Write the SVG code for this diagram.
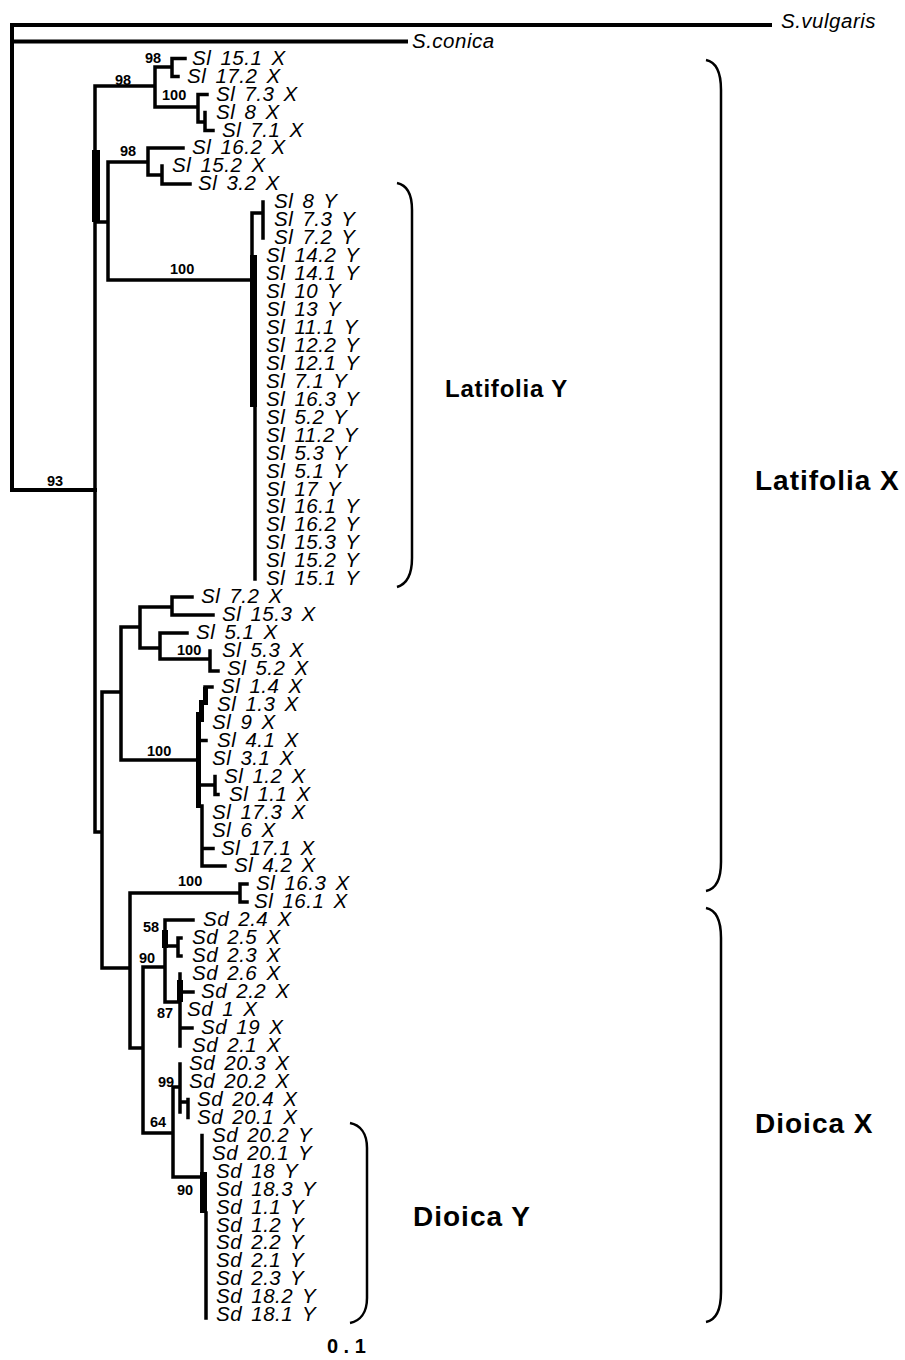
<svg xmlns="http://www.w3.org/2000/svg" width="905" height="1360" viewBox="0 0 905 1360">
<style>
.br{fill:none;stroke:#000;stroke-width:3.5;stroke-linecap:square}
.rt{fill:none;stroke:#000;stroke-width:4;stroke-linecap:square}
.blk{fill:#000}
.lf{font-family:"Liberation Sans",Arial,sans-serif;font-style:italic;font-size:20.5px;letter-spacing:0.5px;word-spacing:3px;fill:#000}
.bs{font-family:"Liberation Sans",Arial,sans-serif;font-weight:bold;font-size:14.5px;fill:#000}
.gl{font-family:"Liberation Sans",Arial,sans-serif;font-weight:bold;fill:#000}
.brace{fill:none;stroke:#000;stroke-width:2.5}
</style>
<rect width="905" height="1360" fill="#fff"/>
<g id="connectors">
<path class="rt" d="M12,25 H770 M12,25 V490 H95 M12,41.5 H406"/>
<path class="br" d="M95,86 H155 M155,67 V107 M155,67 H172 M172,58.5 V76.5 M172,58.5 H185 M172,76.5 H178 M155,107 H198 M198,94.5 V122 H205 M198,94.5 H207 M205,112.5 V130.5 H213
M95,222 H108 M108,162 V280 M108,162 H148 M148,148 V175 M148,148 H183 M148,175 H162 M162,166 V184 H190
M108,280 H252 M252,213 V256 M252,213 H263 M263,202 V238 M255,407 V579
M95,86 V832 H102 M102,692 V968 M102,692 H121 M121,627 V760 M121,627 H140 M140,607 V648 M140,607 H172 M172,597 V615 M172,597 H192 M172,615 H213 M140,648 H160 M160,633 V659 M160,633 H187 M160,659 H210 M210,651 V671 H218
M121,760 H198 M205,687 H212 M198,740.5 H206 M198,785 H215 M215,776.5 V794.5 H218 M202,806 V866 H225 M202,848.5 H213
M102,968 H130 M130,893 V1048 H143 M130,893 H240 M240,884 V902 M240,884 H247 M240,902 H247
M143,967 V1133 M143,967 H165 M165,920 V1002 M165,920 H193 M165,946 H178 M178,938 V956 M178,938 H181 M178,956 H181 M165,1002 H180 M180,974 V1046 M180,992 H193 M180,1028 H192
M143,1133 H173 M173,1087 V1177 M173,1087 H180 M180,1064 V1112 M180,1102 H188 M188,1099.5 V1117.5 M173,1177 H202 M202,1135.5 V1172 M206,1213 V1318"/>
<rect class="blk" x="92" y="150" width="8" height="72"/>
<rect class="blk" x="250" y="255" width="7" height="152"/>
<rect class="blk" x="203" y="687" width="5" height="18"/>
<rect class="blk" x="199" y="700" width="5" height="22"/>
<rect class="blk" x="196" y="712" width="5" height="96"/>
<rect class="blk" x="162" y="930" width="6" height="18"/>
<rect class="blk" x="177" y="980" width="6" height="22"/>
<rect class="blk" x="200" y="1172" width="7" height="41"/>
</g>
<g id="support-values">
<text class="bs" x="145" y="63">98</text>
<text class="bs" x="115" y="85">98</text>
<text class="bs" x="162" y="100">100</text>
<text class="bs" x="120" y="156">98</text>
<text class="bs" x="170" y="274">100</text>
<text class="bs" x="47" y="486">93</text>
<text class="bs" x="177" y="655">100</text>
<text class="bs" x="147" y="756">100</text>
<text class="bs" x="178" y="886">100</text>
<text class="bs" x="143" y="932">58</text>
<text class="bs" x="139" y="963">90</text>
<text class="bs" x="157" y="1018">87</text>
<text class="bs" x="158" y="1087">99</text>
<text class="bs" x="150" y="1127">64</text>
<text class="bs" x="177" y="1195">90</text>
</g>
<g id="outgroups">
<g id="s-vulgaris"><text class="lf" x="781" y="28">S.vulgaris</text></g>
<g id="s-conica"><text class="lf" x="412" y="48">S.conica</text></g>
</g>
<g id="leaves">
<g id="leaf-1"><text class="lf" x="192" y="64.5">Sl 15.1 X</text></g>
<g id="leaf-2"><text class="lf" x="187" y="82.5">Sl 17.2 X</text></g>
<g id="leaf-3"><text class="lf" x="216" y="100.5">Sl 7.3 X</text></g>
<g id="leaf-4"><text class="lf" x="216" y="118.5">Sl 8 X</text></g>
<g id="leaf-5"><text class="lf" x="222" y="136.5">Sl 7.1 X</text></g>
<g id="leaf-6"><text class="lf" x="192" y="154">Sl 16.2 X</text></g>
<g id="leaf-7"><text class="lf" x="172" y="172">Sl 15.2 X</text></g>
<g id="leaf-8"><text class="lf" x="198" y="190">Sl 3.2 X</text></g>
<g id="leaf-9"><text class="lf" x="274" y="208">Sl 8 Y</text></g>
<g id="leaf-10"><text class="lf" x="274" y="226">Sl 7.3 Y</text></g>
<g id="leaf-11"><text class="lf" x="274" y="244">Sl 7.2 Y</text></g>
<g id="leaf-12"><text class="lf" x="266" y="262">Sl 14.2 Y</text></g>
<g id="leaf-13"><text class="lf" x="266" y="280">Sl 14.1 Y</text></g>
<g id="leaf-14"><text class="lf" x="266" y="298">Sl 10 Y</text></g>
<g id="leaf-15"><text class="lf" x="266" y="316">Sl 13 Y</text></g>
<g id="leaf-16"><text class="lf" x="266" y="334">Sl 11.1 Y</text></g>
<g id="leaf-17"><text class="lf" x="266" y="351.5">Sl 12.2 Y</text></g>
<g id="leaf-18"><text class="lf" x="266" y="369.5">Sl 12.1 Y</text></g>
<g id="leaf-19"><text class="lf" x="266" y="387.5">Sl 7.1 Y</text></g>
<g id="leaf-20"><text class="lf" x="266" y="405.5">Sl 16.3 Y</text></g>
<g id="leaf-21"><text class="lf" x="266" y="423.5">Sl 5.2 Y</text></g>
<g id="leaf-22"><text class="lf" x="266" y="441.5">Sl 11.2 Y</text></g>
<g id="leaf-23"><text class="lf" x="266" y="459.5">Sl 5.3 Y</text></g>
<g id="leaf-24"><text class="lf" x="266" y="477.5">Sl 5.1 Y</text></g>
<g id="leaf-25"><text class="lf" x="266" y="495.5">Sl 17 Y</text></g>
<g id="leaf-26"><text class="lf" x="266" y="513">Sl 16.1 Y</text></g>
<g id="leaf-27"><text class="lf" x="266" y="531">Sl 16.2 Y</text></g>
<g id="leaf-28"><text class="lf" x="266" y="549">Sl 15.3 Y</text></g>
<g id="leaf-29"><text class="lf" x="266" y="567">Sl 15.2 Y</text></g>
<g id="leaf-30"><text class="lf" x="266" y="585">Sl 15.1 Y</text></g>
<g id="leaf-31"><text class="lf" x="201" y="603">Sl 7.2 X</text></g>
<g id="leaf-32"><text class="lf" x="222" y="621">Sl 15.3 X</text></g>
<g id="leaf-33"><text class="lf" x="196" y="639">Sl 5.1 X</text></g>
<g id="leaf-34"><text class="lf" x="222" y="657">Sl 5.3 X</text></g>
<g id="leaf-35"><text class="lf" x="227" y="675">Sl 5.2 X</text></g>
<g id="leaf-36"><text class="lf" x="221" y="693">Sl 1.4 X</text></g>
<g id="leaf-37"><text class="lf" x="217" y="710.5">Sl 1.3 X</text></g>
<g id="leaf-38"><text class="lf" x="212" y="728.5">Sl 9 X</text></g>
<g id="leaf-39"><text class="lf" x="217" y="746.5">Sl 4.1 X</text></g>
<g id="leaf-40"><text class="lf" x="212" y="764.5">Sl 3.1 X</text></g>
<g id="leaf-41"><text class="lf" x="224" y="782.5">Sl 1.2 X</text></g>
<g id="leaf-42"><text class="lf" x="229" y="800.5">Sl 1.1 X</text></g>
<g id="leaf-43"><text class="lf" x="212" y="818.5">Sl 17.3 X</text></g>
<g id="leaf-44"><text class="lf" x="212" y="836.5">Sl 6 X</text></g>
<g id="leaf-45"><text class="lf" x="221" y="854.5">Sl 17.1 X</text></g>
<g id="leaf-46"><text class="lf" x="234" y="872">Sl 4.2 X</text></g>
<g id="leaf-47"><text class="lf" x="256" y="890">Sl 16.3 X</text></g>
<g id="leaf-48"><text class="lf" x="254" y="908">Sl 16.1 X</text></g>
<g id="leaf-49"><text class="lf" x="203" y="926">Sd 2.4 X</text></g>
<g id="leaf-50"><text class="lf" x="192" y="944">Sd 2.5 X</text></g>
<g id="leaf-51"><text class="lf" x="192" y="962">Sd 2.3 X</text></g>
<g id="leaf-52"><text class="lf" x="192" y="980">Sd 2.6 X</text></g>
<g id="leaf-53"><text class="lf" x="201" y="998">Sd 2.2 X</text></g>
<g id="leaf-54"><text class="lf" x="187" y="1016">Sd 1 X</text></g>
<g id="leaf-55"><text class="lf" x="201" y="1034">Sd 19 X</text></g>
<g id="leaf-56"><text class="lf" x="192" y="1052">Sd 2.1 X</text></g>
<g id="leaf-57"><text class="lf" x="189" y="1070">Sd 20.3 X</text></g>
<g id="leaf-58"><text class="lf" x="189" y="1087.5">Sd 20.2 X</text></g>
<g id="leaf-59"><text class="lf" x="197" y="1105.5">Sd 20.4 X</text></g>
<g id="leaf-60"><text class="lf" x="197" y="1123.5">Sd 20.1 X</text></g>
<g id="leaf-61"><text class="lf" x="212" y="1141.5">Sd 20.2 Y</text></g>
<g id="leaf-62"><text class="lf" x="212" y="1159.5">Sd 20.1 Y</text></g>
<g id="leaf-63"><text class="lf" x="216" y="1177.5">Sd 18 Y</text></g>
<g id="leaf-64"><text class="lf" x="216" y="1195.5">Sd 18.3 Y</text></g>
<g id="leaf-65"><text class="lf" x="216" y="1213.5">Sd 1.1 Y</text></g>
<g id="leaf-66"><text class="lf" x="216" y="1231.5">Sd 1.2 Y</text></g>
<g id="leaf-67"><text class="lf" x="216" y="1249">Sd 2.2 Y</text></g>
<g id="leaf-68"><text class="lf" x="216" y="1267">Sd 2.1 Y</text></g>
<g id="leaf-69"><text class="lf" x="216" y="1285">Sd 2.3 Y</text></g>
<g id="leaf-70"><text class="lf" x="216" y="1303">Sd 18.2 Y</text></g>
<g id="leaf-71"><text class="lf" x="216" y="1321">Sd 18.1 Y</text></g>
</g>
<g id="clade-latifolia-y">
<path class="brace" d="M397,183 C407,185 412,195 412,210 V558 C412,575 407,584 397,587"/>
<text class="gl" x="445" y="397" font-size="24" letter-spacing="0.8">Latifolia Y</text>
</g>
<g id="clade-latifolia-x">
<path class="brace" d="M706,60 C716,62 721,72 721,90 V862 C721,880 716,889 706,891"/>
<text class="gl" x="755" y="490" font-size="28" letter-spacing="1">Latifolia X</text>
</g>
<g id="clade-dioica-x">
<path class="brace" d="M706,908 C716,910 721,920 721,938 V1292 C721,1310 716,1320 706,1322"/>
<text class="gl" x="755" y="1133" font-size="28" letter-spacing="1">Dioica X</text>
</g>
<g id="clade-dioica-y">
<path class="brace" d="M350,1123 C360,1125 367,1133 367,1148 V1298 C367,1313 360,1321 350,1323"/>
<text class="gl" x="413" y="1226" font-size="28" letter-spacing="1">Dioica Y</text>
</g>
<g id="scale-label">
<text class="gl" x="327" y="1353" font-size="20" letter-spacing="5.5">0.1</text>
</g>
</svg>
